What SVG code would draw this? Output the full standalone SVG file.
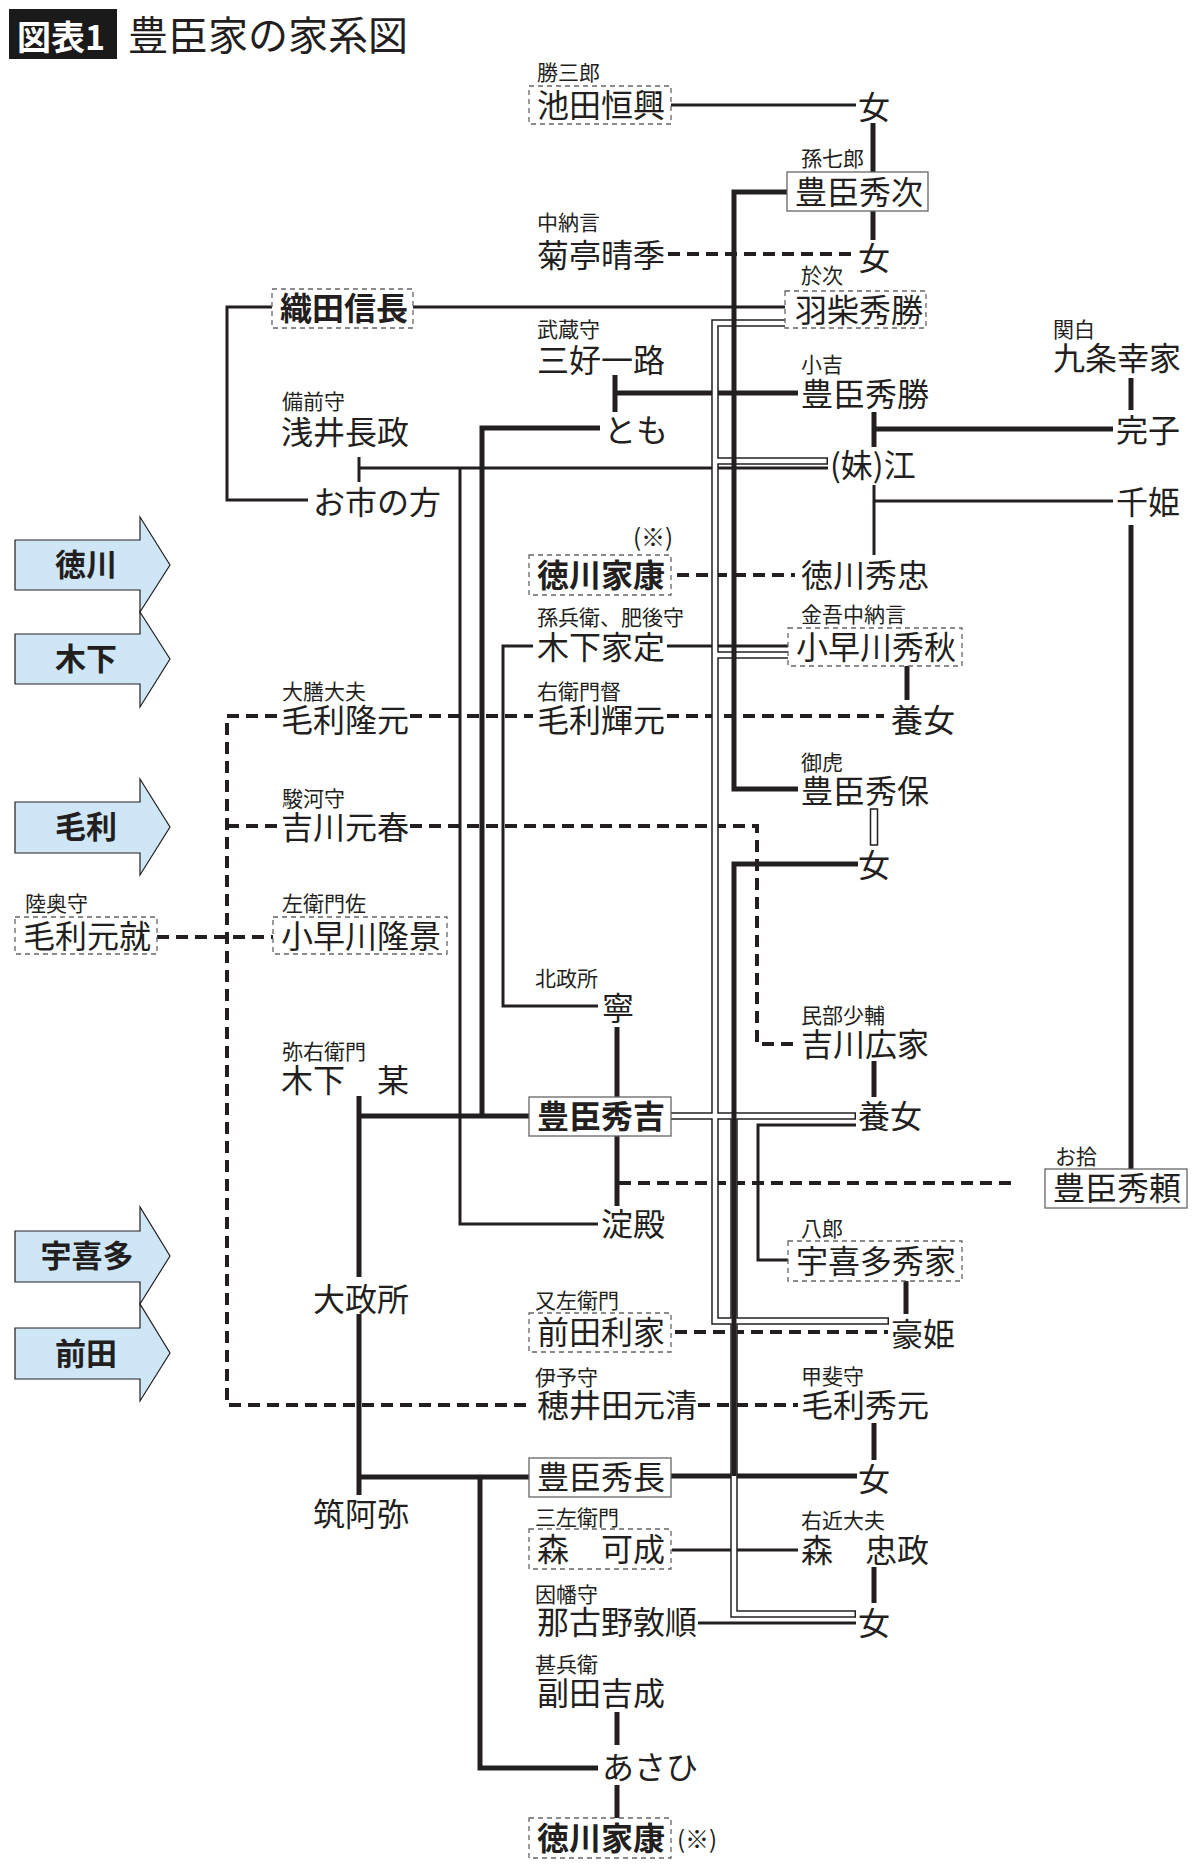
<svg xmlns="http://www.w3.org/2000/svg" width="1200" height="1867" viewBox="0 0 1200 1867">
<style>
text{font-family:"Noto Sans CJK JP","Noto Sans CJK SC",sans-serif;fill:#231f20}
.nm{font-size:32px}
.lb{font-size:21px}
.b{font-weight:bold}
.n{stroke:#231f20;stroke-width:3;fill:none}
.t{stroke:#231f20;stroke-width:5;fill:none}
.d{stroke:#231f20;stroke-width:4;stroke-dasharray:12 7;fill:none}
.dbo{stroke:#231f20;stroke-width:7.5;fill:none}
.dbi{stroke:#fff;stroke-width:4.5;fill:none}
.bx{fill:#fff;stroke:#666;stroke-width:1.3}
.bxd{fill:#fff;stroke:#666;stroke-width:1.3;stroke-dasharray:5 4}
.ar{fill:#cfe6f7;stroke:#231f20;stroke-width:1.2}
.al{font-size:31px;font-weight:bold;text-anchor:middle}
</style>
<rect width="1200" height="1867" fill="#fff"/>
<g id="title">
<rect x="9" y="9" width="108" height="50" fill="#1a1a1a"/>
<text x="17" y="50" style="font-size:34px;font-weight:bold;fill:#fff">図表1</text>
<text x="128" y="50" style="font-size:40px">豊臣家の家系図</text>
</g>
<g id="arrows">
<g id="a-tokugawa"><path class="ar" d="M15,540 H140 V517 L170,565 L140,612 V590 H15 Z"/><text class="al" x="86" y="576">徳川</text></g>
<g id="a-kinoshita"><path class="ar" d="M15,634 H140 V612 L170,659 L140,707 V684 H15 Z"/><text class="al" x="86" y="670">木下</text></g>
<g id="a-mori"><path class="ar" d="M15,802 H140 V779 L170,827 L140,875 V853 H15 Z"/><text class="al" x="86" y="838">毛利</text></g>
<g id="a-ukita"><path class="ar" d="M15,1231 H140 V1207 L170,1256 L140,1304 V1282 H15 Z"/><text class="al" x="87" y="1267">宇喜多</text></g>
<g id="a-maeda"><path class="ar" d="M15,1328 H140 V1304 L170,1353 L140,1401 V1379 H15 Z"/><text class="al" x="86" y="1365">前田</text></g>
</g>
<g id="connectors">
<path class="n" d="M671,105 H856"/>
<path class="n" d="M413,307 H785"/>
<path class="n" d="M272,307 H227 V500 H308"/>
<path class="n" d="M359,457 V482"/>
<path class="n" d="M359,468 H828"/>
<path class="n" d="M874,485 V555"/>
<path class="n" d="M874,501 H1113"/>
<path class="n" d="M533,646 H503 V1006 H598"/>
<path class="n" d="M667,646 H788"/>
<path class="n" d="M460,468 V1224 H598"/>
<path class="n" d="M856,1125 H758 V1260 H788"/>
<path class="n" d="M672,1550 H798"/>
<path class="n" d="M698,1623 H856"/>
<path class="d" d="M668,254 H856"/>
<path class="d" d="M677,575 H795"/>
<path class="d" d="M277,716 H227 V1405 H532"/>
<path class="d" d="M227,826 H277"/>
<path class="d" d="M157,937 H273"/>
<path class="d" d="M410,716 H533"/>
<path class="d" d="M667,716 H884"/>
<path class="d" d="M410,826 H757 V1044 H795"/>
<path class="d" d="M619,1183 H1013"/>
<path class="d" d="M675,1332 H888"/>
<path class="d" d="M698,1405 H798"/>
<path class="t" d="M873,123 V172"/>
<path class="t" d="M873,211 V240"/>
<path class="t" d="M615,375 V412"/>
<path class="t" d="M615,393 H798"/>
<path class="t" d="M600,428 H482 V1116"/>
<path class="t" d="M874,412 V447"/>
<path class="t" d="M874,429 H1113"/>
<path class="t" d="M1131,378 V410"/>
<path class="t" d="M1131,525 V1169"/>
<path class="t" d="M907,666 V700"/>
<path class="t" d="M617,1027 V1097"/>
<path class="t" d="M617,1136 V1206"/>
<path class="t" d="M874,1061 V1097"/>
<path class="t" d="M359,1096 V1277"/>
<path class="t" d="M359,1116 H529"/>
<path class="t" d="M359,1314 V1495"/>
<path class="t" d="M359,1477 H529"/>
<path class="t" d="M671,1476 H857"/>
<path class="t" d="M874,1423 V1460"/>
<path class="t" d="M906,1281 V1314"/>
<path class="t" d="M874,1567 V1603"/>
<path class="t" d="M617,1712 V1745"/>
<path class="t" d="M617,1785 V1818"/>
<path class="t" d="M480,1477 V1768 H598"/>
<path class="dbo" d="M786,323 H715 V1321 H889"/>
<path class="dbo" d="M715,461 H828"/>
<path class="dbo" d="M715,655 H788"/>
<path class="dbo" d="M671,1116 H856"/>
<path class="dbo" d="M734,1116 V1614 H856"/>
<path class="dbi" d="M786,323 H715 V1321 H887.5"/>
<path class="dbi" d="M715,461 H826.5"/>
<path class="dbi" d="M715,655 H788"/>
<path class="dbi" d="M671,1116 H854.5"/>
<path class="dbi" d="M734,1116 V1614 H854.5"/>
<rect x="870.5" y="809" width="7" height="36" fill="#fff" stroke="#231f20" stroke-width="1.5"/>
<path class="t" d="M787,192 H734 V789 H798"/>
<path class="t" d="M858,864 H734 V1476"/>
</g>
<g id="n-ikeda"><text class="lb" x="537" y="80">勝三郎</text><rect class="bxd" x="529" y="86" width="142" height="38"/><text class="nm" x="537" y="117">池田恒興</text></g>
<g id="n-onna1"><text class="nm" x="858" y="119">女</text></g>
<g id="n-hidetsugu"><text class="lb" x="801" y="166">孫七郎</text><rect class="bx" x="787" y="172" width="141" height="39"/><text class="nm" x="795" y="204">豊臣秀次</text></g>
<g id="n-onna2"><text class="nm" x="858" y="270">女</text></g>
<g id="n-kikutei"><text class="lb" x="537" y="230">中納言</text><text class="nm" x="537" y="267">菊亭晴季</text></g>
<g id="n-hashiba"><text class="lb" x="801" y="283">於次</text><rect class="bxd" x="785" y="291" width="141" height="37"/><text class="nm" x="795" y="322">羽柴秀勝</text></g>
<g id="n-oda"><rect class="bxd" x="272" y="289" width="141" height="39"/><text class="nm b" x="280" y="320">織田信長</text></g>
<g id="n-miyoshi"><text class="lb" x="537" y="337">武蔵守</text><text class="nm" x="537" y="372">三好一路</text></g>
<g id="n-hidekatsu"><text class="lb" x="801" y="372">小吉</text><text class="nm" x="801" y="406">豊臣秀勝</text></g>
<g id="n-kujo"><text class="lb" x="1053" y="337">関白</text><text class="nm" x="1053" y="370">九条幸家</text></g>
<g id="n-azai"><text class="lb" x="282" y="409">備前守</text><text class="nm" x="281" y="444">浅井長政</text></g>
<g id="n-tomo"><text class="nm" x="604" y="442">とも</text></g>
<g id="n-sadako"><text class="nm" x="1116" y="442">完子</text></g>
<g id="n-go"><text class="nm" x="830" y="477">(妹)江</text></g>
<g id="n-oichi"><text class="nm" x="313" y="514">お市の方</text></g>
<g id="n-senhime"><text class="nm" x="1116" y="514">千姫</text></g>
<g id="n-ieyasu1"><text x="633" y="546" style="font-size:24px">(※)</text><rect class="bxd" x="529" y="555" width="142" height="40"/><text class="nm b" x="537" y="587">徳川家康</text></g>
<g id="n-hidetada"><text class="nm" x="801" y="587">徳川秀忠</text></g>
<g id="n-iesada"><text class="lb" x="537" y="625">孫兵衛、肥後守</text><text class="nm" x="537" y="659">木下家定</text></g>
<g id="n-hideaki"><text class="lb" x="801" y="622">金吾中納言</text><rect class="bxd" x="788" y="628" width="174" height="38"/><text class="nm" x="796" y="659">小早川秀秋</text></g>
<g id="n-takamoto"><text class="lb" x="282" y="699">大膳大夫</text><text class="nm" x="281" y="732">毛利隆元</text></g>
<g id="n-terumoto"><text class="lb" x="537" y="699">右衛門督</text><text class="nm" x="537" y="732">毛利輝元</text></g>
<g id="n-yojo1"><text class="nm" x="891" y="732">養女</text></g>
<g id="n-hideyasu"><text class="lb" x="801" y="770">御虎</text><text class="nm" x="801" y="803">豊臣秀保</text></g>
<g id="n-onna3"><text class="nm" x="858" y="877">女</text></g>
<g id="n-motoharu"><text class="lb" x="282" y="806">駿河守</text><text class="nm" x="281" y="839">吉川元春</text></g>
<g id="n-motonari"><text class="lb" x="25" y="911">陸奥守</text><rect class="bxd" x="15" y="917" width="142" height="37"/><text class="nm" x="23" y="948">毛利元就</text></g>
<g id="n-takakage"><text class="lb" x="282" y="911">左衛門佐</text><rect class="bxd" x="273" y="917" width="174" height="37"/><text class="nm" x="281" y="948">小早川隆景</text></g>
<g id="n-nene"><text class="lb" x="535" y="986">北政所</text><text class="nm" x="602" y="1020">寧</text></g>
<g id="n-hiroie"><text class="lb" x="801" y="1023">民部少輔</text><text class="nm" x="801" y="1056">吉川広家</text></g>
<g id="n-kinoshita"><text class="lb" x="282" y="1059">弥右衛門</text><text class="nm" x="281" y="1092">木下　某</text></g>
<g id="n-hideyoshi"><rect class="bx" x="529" y="1097" width="142" height="39"/><text class="nm b" x="537" y="1128">豊臣秀吉</text></g>
<g id="n-yojo2"><text class="nm" x="858" y="1128">養女</text></g>
<g id="n-hideyori"><text class="lb" x="1055" y="1164">お拾</text><rect class="bx" x="1045" y="1169" width="142" height="39"/><text class="nm" x="1053" y="1200">豊臣秀頼</text></g>
<g id="n-yodo"><text class="nm" x="601" y="1236">淀殿</text></g>
<g id="n-hideie"><text class="lb" x="801" y="1236">八郎</text><rect class="bxd" x="788" y="1241" width="174" height="40"/><text class="nm" x="796" y="1273">宇喜多秀家</text></g>
<g id="n-omandokoro"><text class="nm" x="313" y="1311">大政所</text></g>
<g id="n-toshiie"><text class="lb" x="535" y="1308">又左衛門</text><rect class="bxd" x="529" y="1313" width="142" height="39"/><text class="nm" x="537" y="1344">前田利家</text></g>
<g id="n-gohime"><text class="nm" x="891" y="1346">豪姫</text></g>
<g id="n-motokiyo"><text class="lb" x="535" y="1385">伊予守</text><text class="nm" x="537" y="1417">穂井田元清</text></g>
<g id="n-hidemoto"><text class="lb" x="801" y="1384">甲斐守</text><text class="nm" x="801" y="1417">毛利秀元</text></g>
<g id="n-hidenaga"><rect class="bx" x="529" y="1458" width="142" height="39"/><text class="nm" x="537" y="1489">豊臣秀長</text></g>
<g id="n-onna4"><text class="nm" x="858" y="1491">女</text></g>
<g id="n-chikuami"><text class="nm" x="313" y="1526">筑阿弥</text></g>
<g id="n-yoshinari"><text class="lb" x="535" y="1525">三左衛門</text><rect class="bxd" x="529" y="1529" width="142" height="40"/><text class="nm" x="537" y="1561">森　可成</text></g>
<g id="n-tadamasa"><text class="lb" x="801" y="1528">右近大夫</text><text class="nm" x="801" y="1562">森　忠政</text></g>
<g id="n-nagoya"><text class="lb" x="535" y="1602">因幡守</text><text class="nm" x="537" y="1634">那古野敦順</text></g>
<g id="n-onna5"><text class="nm" x="858" y="1635">女</text></g>
<g id="n-soeda"><text class="lb" x="535" y="1672">甚兵衛</text><text class="nm" x="537" y="1705">副田吉成</text></g>
<g id="n-asahi"><text class="nm" x="602" y="1779">あさひ</text></g>
<g id="n-ieyasu2"><rect class="bxd" x="529" y="1818" width="142" height="40"/><text class="nm b" x="537" y="1850">徳川家康</text><text x="677" y="1848" style="font-size:24px">(※)</text></g>
</svg>
